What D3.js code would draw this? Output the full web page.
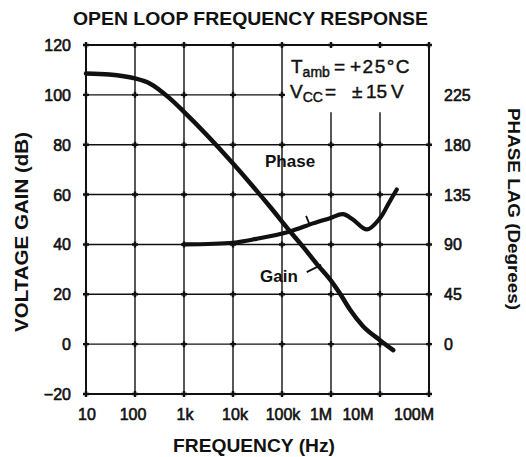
<!DOCTYPE html>
<html><head><meta charset="utf-8">
<script src="https://cdn.jsdelivr.net/npm/d3@7/dist/d3.min.js"></script>
<style>body{margin:0;background:#fff}svg{display:block}</style>
</head><body>
<script>
// ---- data ----
const freqTicks = [10, 100, 1e3, 1e4, 1e5, 1e6, 1e7, 1e8];
const freqTickLabels = ["10", "100", "1k", "10k", "100k", "1M", "10M", "100M"];
const gainTicks = [-20, 0, 20, 40, 60, 80, 100, 120];
const gainTickLabels = ["\u221220", "0", "20", "40", "60", "80", "100", "120"];
const phaseTicks = [0, 45, 90, 135, 180, 225];
const phaseTickLabels = ["0", "45", "90", "135", "180", "225"];

const gainFreq = [10, 30, 100, 200, 500, 1e3, 1e4, 5.7e4, 1.45e5, 2.7e5, 5.1e5, 1.05e6, 1.5e6, 2.45e6, 4.5e6, 1e7, 1.86e7];
const gainDb   = [108.6, 108.2, 106.6, 104.6, 98.8, 93.2, 72.5, 55.1, 45.3, 39, 32.2, 24.9, 20.5, 13.8, 7.2, 1.6, -2.4];

const phaseFreq = [1e3, 1e4, 3e4, 1.4e5, 4.3e5, 9.5e5, 1.75e6, 2.8e6, 5.4e6, 1e7, 1.5e7, 2.2e7];
const phaseDeg  = [90, 91.5, 95, 101.5, 109, 113.7, 117.3, 112.5, 103.5, 113.7, 127, 139.6];

// ---- style / layout ----
const W = 526, H = 457;
const L = 86, R = 429, T = 45, B = 394;
const ink = "#111";
const font = "'Liberation Sans', Arial, Helvetica, sans-serif";
const xLabelNudge = [1, -2, 1, 2, 1, -10, -22, -15];

const svg = d3.select("body").append("svg").attr("width", W).attr("height", H)
  .style("font-family", font);

const x = d3.scaleLog().domain([10, 1e8]).range([L, R]);
const y = d3.scaleLinear().domain([-20, 120]).range([B, T]);
const yP = d3.scaleLinear().domain([-45, 270]).range([B, T]);

// annotation box (in data units)
const box = {f0: 1e5, f1: 1e8, g0: 93, g1: 120};

// grid
const grid = svg.append("g").attr("stroke", ink).attr("stroke-width", 1.4).attr("fill", "none");
freqTicks.forEach(f => {
  const inside = f > box.f0 && f < box.f1;
  grid.append("line").attr("x1", x(f)).attr("x2", x(f))
    .attr("y1", inside ? y(box.g0) : y(120)).attr("y2", y(-20));
});
gainTicks.forEach(g => {
  const inside = g > box.g0 && g < box.g1;
  grid.append("line").attr("y1", y(g)).attr("y2", y(g))
    .attr("x1", x(10)).attr("x2", inside ? x(box.f0) : x(1e8));
});
// small crosses at intersections
freqTicks.forEach(f => gainTicks.forEach(g => {
  const inBox = f > box.f0 && g > box.g0;
  if (inBox && g !== 120) return;
  grid.append("path").attr("stroke-width", 2.4)
    .attr("d", `M${x(f)-3},${y(g)}h6M${x(f)},${y(g)-3}v6`);
}));
// border
svg.append("rect").attr("x", L).attr("y", T).attr("width", R - L).attr("height", B - T)
  .attr("fill", "none").attr("stroke", ink).attr("stroke-width", 2);

// curves
const gainData = gainFreq.map((f, i) => ({f, v: gainDb[i]}));
const phaseData = phaseFreq.map((f, i) => ({f, v: phaseDeg[i]}));
svg.append("path").datum(gainData)
  .attr("d", d3.line().x(d => x(d.f)).y(d => y(d.v)).curve(d3.curveMonotoneX))
  .attr("fill", "none").attr("stroke", ink).attr("stroke-width", 4.5).attr("stroke-linecap", "round");
svg.append("path").datum(phaseData)
  .attr("d", d3.line().x(d => x(d.f)).y(d => yP(d.v)).curve(d3.curveCatmullRom.alpha(0.5)))
  .attr("fill", "none").attr("stroke", ink).attr("stroke-width", 4.2).attr("stroke-linecap", "round");

// tick labels
const tl = svg.append("g").attr("fill", ink).attr("stroke", ink).attr("stroke-width", 0.6)
  .style("font-size", "16px");
freqTicks.forEach((f, i) => tl.append("text").attr("x", x(f) + xLabelNudge[i]).attr("y", 420)
  .attr("text-anchor", "middle").text(freqTickLabels[i]));
gainTicks.forEach((g, i) => tl.append("text").attr("x", 71).attr("y", y(g) + 6)
  .attr("text-anchor", "end").text(gainTickLabels[i]));
phaseTicks.forEach((p, i) => tl.append("text").attr("x", 444).attr("y", yP(p) + 6)
  .attr("text-anchor", "start").text(phaseTickLabels[i]));

// titles
svg.append("text").attr("x", 73).attr("y", 25).attr("textLength", 355).attr("lengthAdjust", "spacingAndGlyphs")
  .style("font-size", "18px").style("font-weight", "bold").attr("fill", ink).text("OPEN LOOP FREQUENCY RESPONSE");
svg.append("text").attr("x", 173).attr("y", 452).attr("textLength", 162).attr("lengthAdjust", "spacingAndGlyphs")
  .style("font-size", "19px").style("font-weight", "bold").attr("fill", ink).text("FREQUENCY (Hz)");
svg.append("text").attr("transform", "translate(28,232) rotate(-90)").attr("text-anchor", "middle")
  .attr("textLength", 200).attr("lengthAdjust", "spacingAndGlyphs")
  .style("font-size", "19px").style("font-weight", "bold").attr("fill", ink).text("VOLTAGE GAIN (dB)");
svg.append("text").attr("transform", "translate(508,209) rotate(90)").attr("text-anchor", "middle")
  .attr("textLength", 202).attr("lengthAdjust", "spacingAndGlyphs")
  .style("font-size", "16px").style("font-weight", "bold").attr("fill", ink).text("PHASE LAG (Degrees)");

// annotation text
const ann = svg.append("g").attr("fill", ink).attr("stroke", ink).attr("stroke-width", 0.45).style("font-size", "19px");
const t1 = ann.append("text").attr("y", 73);
t1.append("tspan").attr("x", 291).text("T");
t1.append("tspan").attr("dy", 4).style("font-size", "14px").text("amb");
t1.append("tspan").attr("x", 334).attr("dy", -4).text("=");
t1.append("tspan").attr("x", 350).style("letter-spacing", "1.5px").text("+25°C");
const t2 = ann.append("text").attr("y", 98);
t2.append("tspan").attr("x", 290).text("V");
t2.append("tspan").attr("dy", 4).style("font-size", "14px").text("CC");
t2.append("tspan").attr("x", 325).attr("dy", -4).text("=");
t2.append("tspan").attr("x", 352).text("±");
t2.append("tspan").attr("x", 366).text("15");
t2.append("tspan").attr("x", 391).text("V");

// curve labels and leaders
ann.append("text").attr("x", 265).attr("y", 167).style("font-size", "17px").style("font-weight", "bold").attr("stroke-width", 0).text("Phase");
ann.append("text").attr("x", 260).attr("y", 282).style("font-size", "17px").style("font-weight", "bold").attr("stroke-width", 0).text("Gain");
const lead = svg.append("g").attr("stroke", ink).attr("stroke-width", 1.8);
lead.append("line").attr("x1", x(3.2e5)).attr("y1", y(28.9)).attr("x2", x(6.3e5)).attr("y2", y(31.8));
lead.append("line").attr("x1", x(3.1e5)).attr("y1", yP(115.7)).attr("x2", x(3.7e5)).attr("y2", yP(107.5));
</script>
</body></html>
